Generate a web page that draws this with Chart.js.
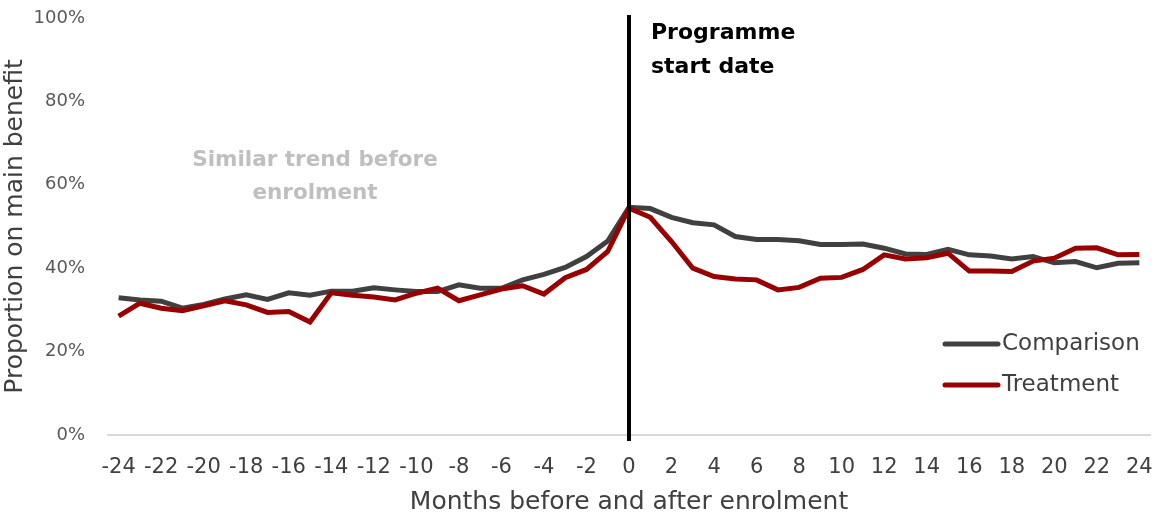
<!DOCTYPE html>
<html>
<head>
<meta charset="utf-8">
<script src="https://cdn.jsdelivr.net/npm/chart.js@4"></script>
<style>
  body { margin: 0; background: #fff; }
</style>
</head>
<body>
<canvas id="myChart" width="1157" height="517"></canvas>
<script>
// months relative to enrolment
const months = [-24,-23,-22,-21,-20,-19,-18,-17,-16,-15,-14,-13,-12,-11,-10,-9,-8,-7,-6,-5,-4,-3,-2,-1,
  0,1,2,3,4,5,6,7,8,9,10,11,12,13,14,15,16,17,18,19,20,21,22,23,24];

// proportion on main benefit (%)
const comparison = [32.9,32.4,32.1,30.4,31.3,32.6,33.6,32.5,34.1,33.5,34.5,34.5,35.3,34.8,34.4,34.4,36.0,35.2,35.2,37.2,38.5,40.2,42.8,46.5,
  54.6,54.3,52.2,50.9,50.4,47.6,46.9,46.9,46.6,45.7,45.7,45.8,44.8,43.4,43.3,44.5,43.2,42.9,42.2,42.8,41.3,41.6,40.1,41.2,41.3];
const treatment = [28.5,31.6,30.4,29.8,31.0,32.2,31.2,29.4,29.6,27.1,34.1,33.5,33.1,32.4,34.0,35.2,32.2,33.6,35.0,35.8,33.8,37.7,39.7,44.0,
  54.4,52.2,46.4,40.0,38.0,37.4,37.2,34.8,35.4,37.6,37.8,39.7,43.2,42.2,42.5,43.6,39.3,39.3,39.2,41.7,42.4,44.8,44.9,43.2,43.3];

const xTicks = [-24,-22,-20,-18,-16,-14,-12,-10,-8,-6,-4,-2,0,2,4,6,8,10,12,14,16,18,20,22,24];
const yTicks = [0,20,40,60,80,100];

const FONT = '"DejaVu Sans", sans-serif';
const GREY = '#404040';
const RED = '#990000';

const toPoints = (arr) => arr.map((v, i) => ({ x: months[i], y: v }));

// 시작일 선, 주석, 범례
const extras = {
  id: 'extras',
  afterDatasetsDraw: (chart) => {
    const ctx = chart.ctx;
    const xs = chart.scales.x;
    ctx.save();

    // programme start line
    const x0 = xs.getPixelForValue(0);
    ctx.strokeStyle = '#000';
    ctx.lineWidth = 4;
    ctx.beginPath();
    ctx.moveTo(x0, 15);
    ctx.lineTo(x0, 441);
    ctx.stroke();

    ctx.textBaseline = 'middle';
    ctx.font = 'bold 22px ' + FONT;
    ctx.fillStyle = '#000';
    ctx.textAlign = 'left';
    ctx.fillText('Programme', 651, 33);
    ctx.fillText('start date', 651, 67);

    ctx.fillStyle = '#bfbfbf';
    ctx.textAlign = 'center';
    ctx.font = 'bold 21.5px ' + FONT;
    ctx.fillText('Similar trend before', 315, 160);
    ctx.fillText('enrolment', 315, 193);

    // legend
    const items = [['Comparison', GREY, 344], ['Treatment', RED, 385]];
    ctx.lineCap = 'round';
    ctx.lineWidth = 5;
    ctx.font = '23px ' + FONT;
    ctx.textAlign = 'left';
    items.forEach(([label, color, y]) => {
      ctx.strokeStyle = color;
      ctx.beginPath();
      ctx.moveTo(945, y);
      ctx.lineTo(998, y);
      ctx.stroke();
      ctx.fillStyle = '#404040';
      ctx.fillText(label, 1002, y);
    });
    ctx.restore();
  }
};

new Chart(document.getElementById('myChart').getContext('2d'), {
  type: 'line',
  data: {
    datasets: [
      {
        label: 'Comparison',
        data: toPoints(comparison),
        borderColor: GREY,
        borderWidth: 5,
        pointRadius: 0,
        tension: 0,
        order: 2,
      },
      {
        label: 'Treatment',
        data: toPoints(treatment),
        borderColor: RED,
        borderWidth: 5,
        pointRadius: 0,
        tension: 0,
        order: 1,
      },
    ],
  },
  options: {
    responsive: false,
    animation: false,
    layout: { padding: { top: 18, right: 7, left: 0, bottom: 0 } },
    plugins: {
      legend: { display: false },
      tooltip: { enabled: false },
    },
    scales: {
      x: {
        type: 'linear',
        min: -24.5,
        max: 24.5,
        afterBuildTicks: (scale) => { scale.ticks = xTicks.map((v) => ({ value: v })); },
        afterFit: (scale) => {
          scale.height = 82;
          scale.paddingLeft = 0;
          scale.paddingRight = 0;
        },
        grid: { display: false, drawTicks: false },
        border: { color: '#d9d9d9', width: 2 },
        ticks: { color: '#404040', font: { family: FONT, size: 21 }, padding: 20, maxRotation: 0, autoSkip: false },
        title: {
          display: true,
          text: 'Months before and after enrolment',
          color: '#404040',
          font: { family: FONT, size: 25 },
          padding: { top: 4, bottom: 0 },
        },
      },
      y: {
        min: 0,
        max: 100,
        afterBuildTicks: (scale) => { scale.ticks = yTicks.map((v) => ({ value: v })); },
        afterFit: (scale) => {
          scale.width = 108;
          scale.paddingTop = 0;
          scale.paddingBottom = 0;
        },
        grid: { display: false, drawTicks: false },
        border: { display: false },
        ticks: { color: '#595959', font: { family: FONT, size: 18 }, padding: 23, callback: (v) => v + '%' },
        title: {
          display: true,
          text: 'Proportion on main benefit',
          color: '#404040',
          font: { family: FONT, size: 25 },
          padding: { top: 0, bottom: 0 },
        },
      },
    },
  },
  plugins: [extras],
});
</script>
</body>
</html>
